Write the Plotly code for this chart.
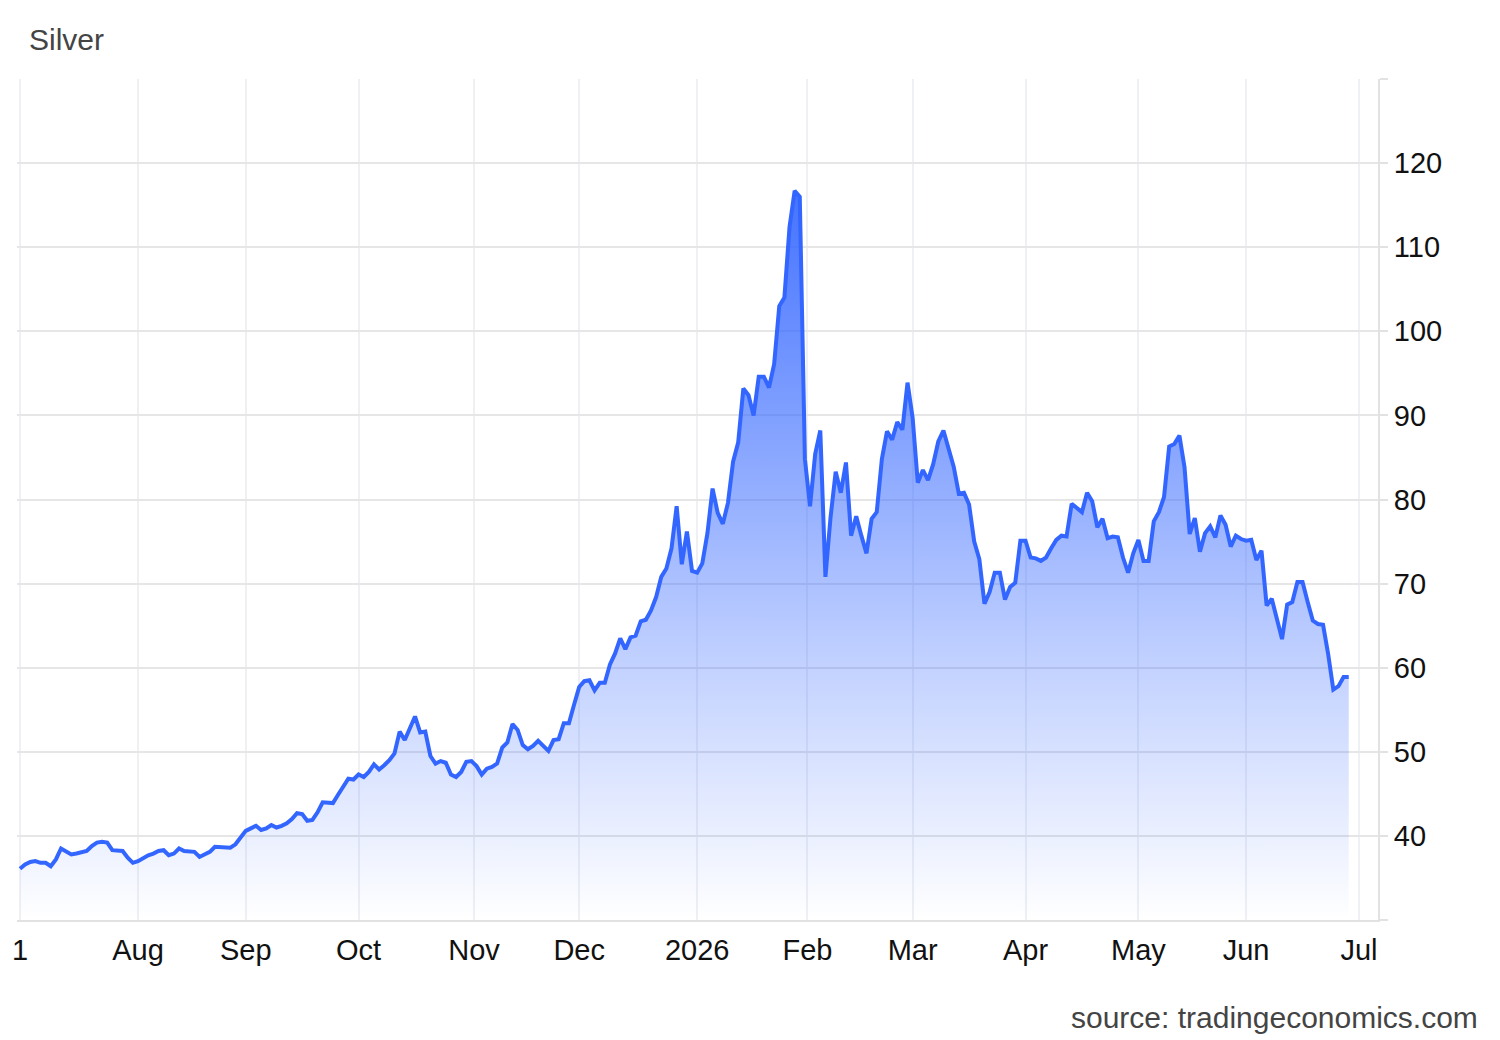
import pandas as pd
import plotly.graph_objects as go

# Daily (weekday) silver prices, starting 2025-07-01
start_date = "2025-07-01"
prices = [
    36.1, 36.6, 36.9, 37.0, 36.8, 36.8, 36.4, 37.2, 38.5, 38.2,
    37.8, 37.9, 38.1, 38.2, 38.8, 39.2, 39.3, 39.2, 38.3, 38.2,
    38.2, 37.4, 36.8, 37.0, 37.4, 37.7, 37.9, 38.2, 38.3, 37.7,
    37.9, 38.5, 38.2, 38.1, 38.1, 37.5, 37.8, 38.1, 38.7, 38.7,
    38.6, 38.6, 39.0, 39.8, 40.6, 40.9, 41.2, 40.7, 40.9, 41.3,
    41.0, 41.2, 41.5, 42.0, 42.7, 42.6, 41.8, 41.9, 42.8, 44.0,
    44.0, 43.9, 44.9, 45.8, 46.8, 46.7, 47.3, 47.0, 47.6, 48.5,
    47.9, 48.4, 49.0, 49.8, 52.4, 51.4, 52.8, 54.2, 52.3, 52.4,
    49.5, 48.6, 48.9, 48.7, 47.3, 47.0, 47.6, 48.8, 48.9, 48.3,
    47.3, 48.0, 48.2, 48.6, 50.5, 51.1, 53.3, 52.6, 50.8, 50.3,
    50.7, 51.3, 50.7, 50.1, 51.4, 51.5, 53.4, 53.4, 55.6, 57.7,
    58.4, 58.5, 57.3, 58.2, 58.2, 60.4, 61.7, 63.5, 62.2, 63.6,
    63.8, 65.5, 65.7, 66.8, 68.4, 70.8, 71.8, 74.2, 79.2, 72.3,
    76.2, 71.5, 71.3, 72.4, 76.0, 81.3, 78.4, 77.1, 79.6, 84.5,
    86.8, 93.2, 92.4, 90.0, 94.6, 94.6, 93.3, 96.1, 103.0, 104.0,
    112.4, 116.7, 116.0, 84.8, 79.2, 85.4, 88.2, 70.8, 77.9, 83.3,
    80.8, 84.4, 75.7, 78.0, 75.7, 73.6, 77.7, 78.5, 84.8, 88.1,
    87.1, 89.2, 88.3, 93.9, 89.7, 82.0, 83.5, 82.3, 84.2, 86.9,
    88.2, 86.0, 83.9, 80.7, 80.8, 79.4, 75.0, 72.9, 67.6, 69.0,
    71.3, 71.3, 68.1, 69.6, 70.1, 75.1, 75.1, 73.1, 73.0, 72.7,
    73.1, 74.2, 75.2, 75.7, 75.6, 79.5, 79.0, 78.5, 80.8, 79.8,
    76.7, 77.7, 75.4, 75.6, 75.5, 73.1, 71.3, 73.6, 75.2, 72.7,
    72.7, 77.4, 78.5, 80.3, 86.3, 86.6, 87.6, 83.8, 75.9, 77.8,
    73.8, 76.0, 76.8, 75.5, 78.1, 77.0, 74.4, 75.7, 75.3, 75.1,
    75.2, 72.8, 73.9, 67.4, 68.2, 65.6, 63.4, 67.5, 67.8, 70.2,
    70.2, 67.8, 65.6, 65.2, 65.1, 61.6, 57.4, 57.8, 58.9, 58.9,
]
dates = pd.bdate_range(start=start_date, periods=len(prices))

x_tick_vals = ["2025-07-01", "2025-08-01", "2025-09-01", "2025-10-01",
               "2025-10-31 12:00", "2025-12-01", "2026-01-01", "2026-01-30 12:00",
               "2026-03-02", "2026-04-01", "2026-05-01", "2026-06-01", "2026-07-01"]
x_tick_text = ["1", "Aug", "Sep", "Oct", "Nov", "Dec", "2026", "Feb",
               "Mar", "Apr", "May", "Jun", "Jul"]
y_tick_vals = [30, 40, 50, 60, 70, 80, 90, 100, 110, 120, 130]
y_tick_text = ["", "40", "50", "60", "70", "80", "90", "100", "110", "120", ""]

FONT = "Liberation Sans, Arial, sans-serif"

fig = go.Figure()
fig.add_trace(go.Scatter(
    x=dates, y=prices, mode="lines",
    line=dict(color="#3366ff", width=4),
    fill="tozeroy",
    fillgradient=dict(
        type="vertical", start=30, stop=117,
        colorscale=[[0, "rgba(51,102,255,0.0)"],
                    [0.35, "rgba(51,102,255,0.30)"],
                    [1, "rgba(51,102,255,0.92)"]],
    ),
    hoverinfo="x+y", showlegend=False,
))

# page has an 8px body margin, so the figure sits at (8, 8)
fig.update_layout(
    width=1500, height=1040,
    margin=dict(l=9, r=130, t=71, b=128),
    paper_bgcolor="white", plot_bgcolor="white",
    font=dict(family=FONT, size=29, color="#111111"),
    xaxis=dict(
        type="date", automargin=False,
        rangebreaks=[dict(bounds=["sat", "mon"])],
        range=["2025-06-30 10:00", "2026-07-06 17:00"],
        tickmode="array", tickvals=x_tick_vals, ticktext=x_tick_text,
        showgrid=True, gridcolor="#eef0f4", gridwidth=1.5,
        showline=True, linecolor="#e2e2e2", linewidth=2,
        ticks="", ticklabelstandoff=3,
        tickfont=dict(family=FONT, size=29, color="#111111"),
        zeroline=False,
    ),
    yaxis=dict(
        side="right", range=[30, 130], automargin=False,
        tickmode="array", tickvals=y_tick_vals, ticktext=y_tick_text,
        showgrid=True, gridcolor="#e6e6e6", gridwidth=1.5,
        showline=True, linecolor="#e2e2e2", linewidth=2,
        ticks="outside", ticklen=8, tickcolor="#e2e2e2", tickwidth=2,
        tickfont=dict(family=FONT, size=29, color="#111111"),
        zeroline=False,
    ),
    annotations=[
        dict(text="Silver", xref="paper", yref="paper",
             x=(27 - 17) / 1360, y=(920 - 40) / 841,
             xanchor="left", yanchor="middle", showarrow=False,
             font=dict(family=FONT, size=30, color="#444444")),
        dict(text="source: tradingeconomics.com", xref="paper", yref="paper",
             x=(1479 - 17) / 1360, y=(920 - 1017) / 841,
             xanchor="right", yanchor="middle", showarrow=False,
             font=dict(family=FONT, size=30, color="#444444")),
    ],
)

fig.write_html("out.html")
